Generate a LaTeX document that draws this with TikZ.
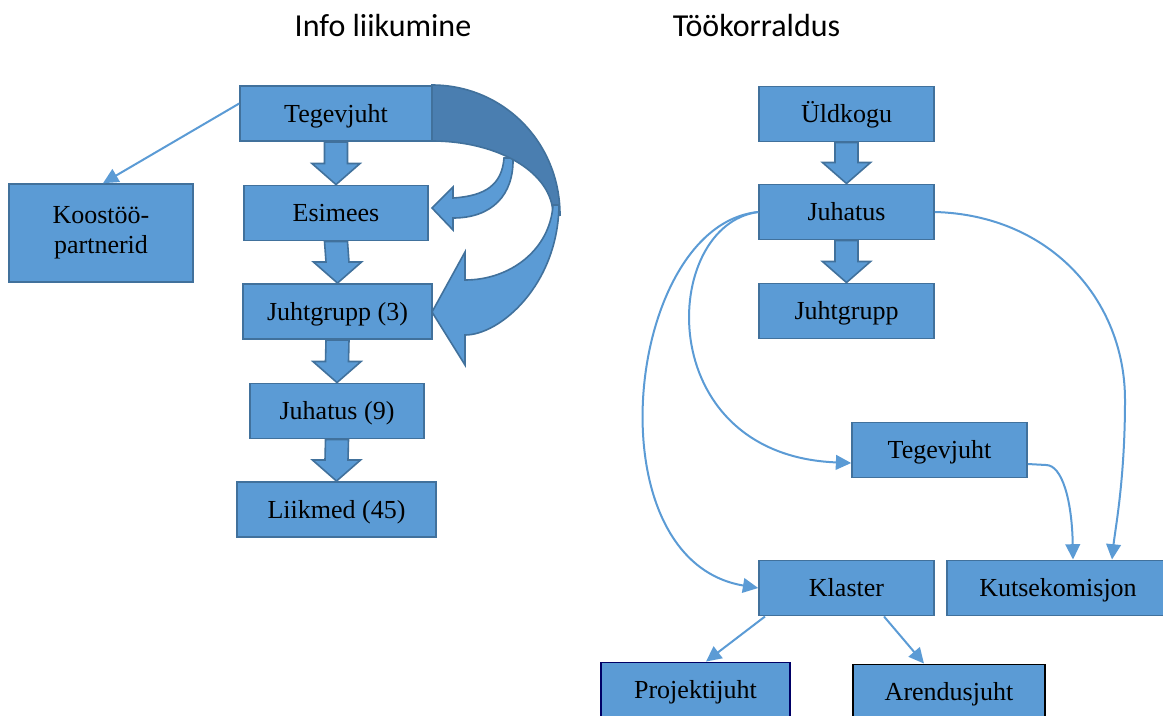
\documentclass[tikz,border=0pt]{standalone}
\usepackage{fontspec}
\setmainfont{Liberation Serif}
\newfontfamily\pealkiri{Carlito}
\usetikzlibrary{calc,arrows.meta}
\definecolor{kast}{HTML}{5B9BD5}
\definecolor{serv}{HTML}{41719C}
\definecolor{tume}{HTML}{4A7EB0}
\newcommand{\plokk}[2]{\draw[plokknool]($(#1.south)+(-11.5,0)$)--($(#2.north)+(-11.5,-21)$)--($(#2.north)+(-24,-21)$)--(#2.north)--($(#2.north)+(24,-21)$)--($(#2.north)+(11.5,-21)$)--($(#1.south)+(11.5,0)$)--cycle;}
\begin{document}
\begin{tikzpicture}[x=0.75pt,y=-0.75pt,
	kastike/.style={draw=serv,fill=kast,line width=1.2pt,inner sep=0pt,minimum height=41.5pt,font=\fontsize{19.5}{22.5}\selectfont},
	rida/.style={kastike,text height=12.9pt,text depth=0pt},
	plokknool/.style={draw=serv,fill=kast,line width=1.2pt},
	joon/.style={draw=kast,line width=1.5pt,-{Triangle[length=11.5pt,width=11pt]}}]
				\useasboundingbox(0,0)rectangle(1163,715);
				\node[font=\pealkiri\fontsize{24}{28}\selectfont,anchor=base](info)at(383,36){Info liikumine};
				\node[font=\pealkiri\fontsize{24}{28}\selectfont,anchor=base](too)at(756.5,36){Töökorraldus};
				\draw[plokknool](453,198)..controls(485,196)and(502,185)..(504,158)--(513,158)..controls(514,195)and(492,218)..(453,218)--(453,230)--(432,208)--(453,187)--cycle;
				\draw[plokknool,fill=tume](432,85)..controls(503,85)and(560,142)..(560,215)--(553,215)..controls(553,173)and(499,141)..(432,141)--cycle;
				\draw[plokknool](553,205)..controls(550,250)and(510,280)..(465,280)--(465,252)--(432,312)--(465,365)--(465,335)..controls(500,335)and(558,285)..(559,205)--cycle;
				\node[rida,minimum width=144pt](teg)at(336,113.5){Tegevjuht};
				\node[rida,minimum width=138pt](esi)at(336,213){Esimees};
				\node[rida,minimum width=141.75pt](jg3)at(337.5,311.5){Juhtgrupp (3)};
				\node[rida,minimum width=130.5pt](juh9)at(337,411){Juhatus (9)};
				\node[rida,minimum width=149.25pt](liik)at(336.5,509.5){Liikmed (45)};
				\node[kastike,minimum width=138pt,minimum height=73.5pt,align=center](koos)at(101,233){Koostöö-\\partnerid};
				\node[rida,minimum width=131.25pt](yld)at(846.5,114){Üldkogu};
				\node[rida,minimum width=131.25pt](juh)at(846.5,212){Juhatus};
				\node[rida,minimum width=131.25pt](jg)at(846.5,311){Juhtgrupp};
				\node[rida,minimum width=131.25pt](tegr)at(939.5,450){Tegevjuht};
				\node[rida,minimum width=131.25pt](klas)at(846.5,588){Klaster};
				\node[rida,minimum width=166.5pt](kuts)at(1058,588){Kutsekomisjon};
				\node[rida,minimum width=141.75pt,draw=blue!40!black](proj)at(695.5,690){Projektijuht};
				\node[rida,minimum width=144pt,draw=black](aren)at(949,692){Arendusjuht};
				\plokk{teg}{esi}
				\plokk{esi}{jg3}
				\plokk{jg3}{juh9}
				\plokk{juh9}{liik}
				\plokk{yld}{juh}
				\plokk{juh}{jg}
				\draw[joon]($(teg.west)+(0,-10)$)--($(koos.north)+(2,0)$);
				\draw[joon](juh.west)..controls(625,225)and(590,560)..(klas.west);
				\draw[joon](juh.west)..controls(660,225)and(650,455)..($(tegr.west)+(0,13)$);
				\draw[joon](juh.east)..controls(1050,215)and(1125,300)..(1125,400)..controls(1125,480)and(1115,530)..($(kuts.north)+(54,0)$);
				\draw[joon]($(tegr.east)+(0,14)$)--(1046,465)..controls(1062,465)and(1072,500)..($(kuts.north)+(15,0)$);
				\draw[joon]($(klas.south)+(-81.5,0)$)--($(proj.north)+(10.5,0)$);
				\draw[joon]($(klas.south)+(37.5,0)$)--($(aren.north)+(-25,0)$);
			\end{tikzpicture}
\end{document}
